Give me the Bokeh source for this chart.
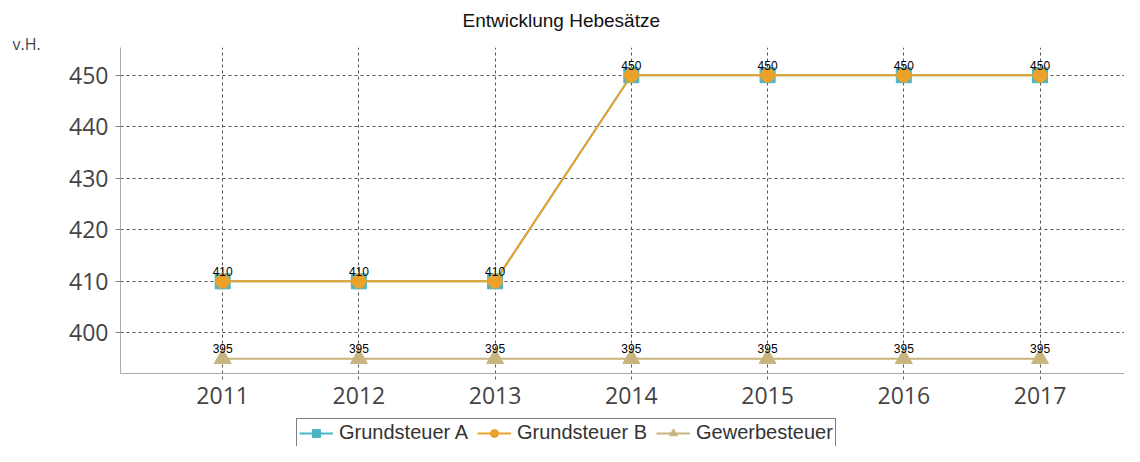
from bokeh.plotting import figure
from bokeh.models import (Range1d, FixedTicker, Legend, LegendItem, Title, ColumnDataSource)
from bokeh.layouts import column
from bokeh.core.properties import value
from bokeh.embed import file_html
from bokeh.resources import INLINE

years = [2011, 2012, 2013, 2014, 2015, 2016, 2017]
grundsteuer_a = [410, 410, 410, 450, 450, 450, 450]
grundsteuer_b = [410, 410, 410, 450, 450, 450, 450]
gewerbesteuer = [395, 395, 395, 395, 395, 395, 395]
y_ticks = [400, 410, 420, 430, 440, 450]
title_text = "Entwicklung Hebesätze"
y_unit = "v.H."
names = ["Grundsteuer A", "Grundsteuer B", "Gewerbesteuer"]

c_a = "#4BB5C6"
c_b = "#EBA22B"
c_g = "#C8B47E"

W = 1124
H_MAIN = 417
H_LEG = 29

p = figure(width=W, height=H_MAIN, output_backend="svg", toolbar_location=None,
           x_range=Range1d(2010.25, 2017.62), y_range=Range1d(392.12, 455.38))
p.min_border_left = 120
p.min_border_right = 0
p.min_border_top = 44
p.min_border_bottom = 44
p.outline_line_color = None
p.background_fill_color = "white"

# axes
p.xaxis.ticker = FixedTicker(ticks=years)
p.yaxis.ticker = FixedTicker(ticks=y_ticks)
p.xaxis.minor_tick_line_color = None
p.yaxis.minor_tick_line_color = None
for ax in (p.xaxis, p.yaxis):
    ax.axis_line_color = "#AAAAAA"
    ax.axis_line_width = 1
    ax.major_label_text_font = "Open Sans"
    ax.major_label_text_font_size = "23px"
    ax.major_label_text_color = "#444444"
p.yaxis.major_tick_in = 0
p.yaxis.major_tick_out = 5
p.yaxis.major_tick_line_color = "#888888"
p.yaxis.major_label_standoff = 7
p.xaxis.major_tick_in = 0
p.xaxis.major_tick_out = 6
p.xaxis.major_tick_line_color = "#666666"
p.xaxis.major_tick_line_dash = "3 3"
p.xaxis.major_label_standoff = 7

# grid
for g in (p.xgrid, p.ygrid):
    g.grid_line_color = "#555555"
    g.grid_line_dash = "3 3"
    g.grid_line_width = 1
p.xgrid.ticker = FixedTicker(ticks=years)
p.ygrid.ticker = FixedTicker(ticks=y_ticks)

src = ColumnDataSource(dict(x=years, a=grundsteuer_a, b=grundsteuer_b, g=gewerbesteuer,
                            b_lbl=[str(v) for v in grundsteuer_b],
                            g_lbl=[str(v) for v in gewerbesteuer]))


def draw_series(fig):
    lg = fig.line("x", "g", source=src, line_color=c_g, line_width=2)
    sg = fig.scatter("x", "g", source=src, marker="triangle", size=17, fill_color=c_g, line_color=c_g)
    la = fig.line("x", "a", source=src, line_color=c_a, line_width=2)
    sa = fig.scatter("x", "a", source=src, marker="square", size=15, fill_color=c_a, line_color=c_a)
    lb = fig.line("x", "b", source=src, line_color=c_b, line_width=2)
    sb = fig.scatter("x", "b", source=src, marker="circle", size=14, fill_color=c_b, line_color=c_b)
    return (la, sa), (lb, sb), (lg, sg)


draw_series(p)

for col, lbl in (("g", "g_lbl"), ("b", "b_lbl")):
    p.text("x", col, text=lbl, source=src, text_font=value("Liberation Sans"),
           text_font_size="12px", text_color="#000000", text_align="center",
           text_baseline="alphabetic", y_offset=-10)

# unit label (closest to frame) and main title (above it)
p.add_layout(Title(text=y_unit, align="left", offset=-108, standoff=-14,
                   text_font="Open Sans", text_font_size="16px", text_font_style="normal",
                   text_color="#444444"), "above")
p.title.text = title_text
p.title.align = "left"
p.title.offset = 342
p.title.standoff = 14
p.title.text_font = "Liberation Sans"
p.title.text_font_size = "19px"
p.title.text_font_style = "normal"
p.title.text_color = "#111111"

# legend strip below the chart
p2 = figure(width=W, height=H_LEG, output_backend="svg", toolbar_location=None,
            x_axis_type=None, y_axis_type=None, x_range=Range1d(0, 1), y_range=Range1d(0, 1),
            min_border=0)
p2.outline_line_color = None
(ra, rb, rg) = draw_series(p2)

legend = Legend(items=[LegendItem(label=names[0], renderers=list(ra)),
                       LegendItem(label=names[1], renderers=list(rb)),
                       LegendItem(label=names[2], renderers=list(rg))],
                orientation="horizontal", location=(176, -1))
legend.label_text_font = "Liberation Sans"
legend.label_text_font_size = "20px"
legend.label_text_color = "#333333"
legend.label_height = 20
legend.glyph_width = 34
legend.glyph_height = 20
legend.label_standoff = 6
legend.spacing = 9
legend.padding = 2
legend.margin = 0
legend.border_line_color = "black"
legend.border_line_width = 1.5
legend.background_fill_color = "white"
legend.background_fill_alpha = 1
p2.add_layout(legend, "center")

open("out.html", "w").write(file_html(column(p, p2), INLINE))
